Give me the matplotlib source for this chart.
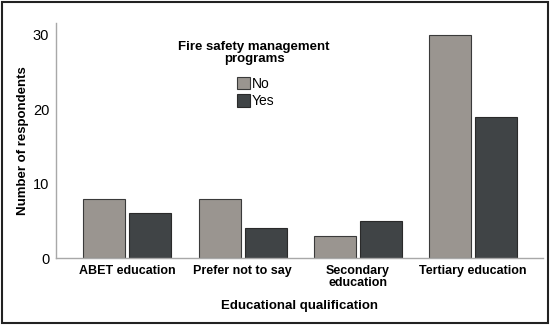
import numpy as np
import matplotlib.pyplot as plt
from matplotlib.patches import Rectangle

plt.rcParams['font.family'] = ['Liberation Sans', 'DejaVu Sans']

categories = ['ABET education', 'Prefer not to say', 'Secondary\neducation', 'Tertiary education']
no_counts = [8, 8, 3, 30]
yes_counts = [6, 4, 5, 19]
yticks = [0, 10, 20, 30]

fig = plt.figure(figsize=(5.5, 3.25), dpi=100)
ax = fig.add_axes([0.102, 0.206, 0.885, 0.723])

x = np.arange(len(categories))
w = 0.365
ax.bar(x - 0.2, no_counts, w, color='#9a9590', edgecolor='#3a3a3a', linewidth=0.8, label='No')
ax.bar(x + 0.2, yes_counts, w, color='#404446', edgecolor='#2a2a2a', linewidth=0.8, label='Yes')

ax.set_xlim(-0.62, 3.61)
ax.set_ylim(0, 31.6)
ax.set_yticks(yticks)
ax.set_xticks(x)
ax.set_xticklabels(categories, fontweight='bold', fontsize=9, linespacing=1.0)
ax.tick_params(axis='y', length=0, labelsize=10.5, pad=5)
ax.tick_params(axis='x', length=0, pad=5)

for s in ['top', 'right']:
    ax.spines[s].set_visible(False)
for s in ['left', 'bottom']:
    ax.spines[s].set_color('#a8a8a8')
    ax.spines[s].set_linewidth(1)

ax.set_ylabel('Number of respondents', fontweight='bold', fontsize=9.5, labelpad=3)
ax.set_xlabel('Educational qualification', fontweight='bold', fontsize=9.5, labelpad=8)

fig.text(254 / 550, 1 - 41 / 325, 'Fire safety management\nprograms', ha='center', va='top',
         fontweight='bold', fontsize=9.5, linespacing=1.0, multialignment='center')
leg = ax.legend(loc='upper center',
                bbox_to_anchor=(256 / 550, 1 - 70 / 325), bbox_transform=fig.transFigure,
                frameon=False, fontsize=10, handlelength=0.9, handleheight=1.0,
                handletextpad=0.15, labelspacing=0.25, borderpad=0)

fig.patches.append(Rectangle((0.004, 0.006), 0.992, 0.988, transform=fig.transFigure,
                             fill=False, edgecolor='#222222', linewidth=1.5))

fig.savefig('out.png', dpi=100)
